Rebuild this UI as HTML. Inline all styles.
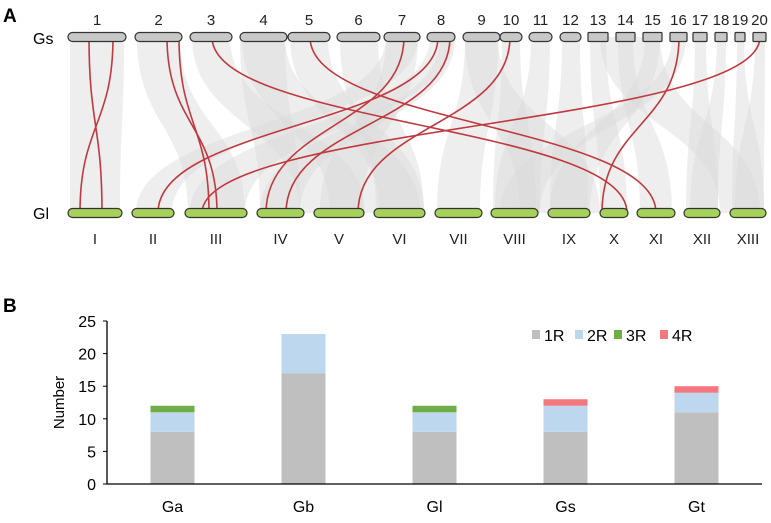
<!DOCTYPE html>
<html><head><meta charset="utf-8"><style>
body{margin:0;background:#fff}
svg text{font-family:"Liberation Sans",Arial,sans-serif}
</style></head><body>
<svg id="fig" width="771" height="518" viewBox="0 0 771 518">
<text x="3" y="22" font-size="19" font-weight="bold">A</text>
<text x="3" y="312" font-size="19" font-weight="bold">B</text>
<g id="ribbons"></g>
<g id="redlinks"></g>
<g id="chroms"></g>
<text x="33" y="44" font-size="16">Gs</text>
<text x="33" y="219" font-size="16">Gl</text>
<g id="chart"></g>
</svg>
<script>
const NS="http://www.w3.org/2000/svg";
function mk(tag,attrs,parent){const e=document.createElementNS(NS,tag);for(const k in attrs)e.setAttribute(k,attrs[k]);parent.appendChild(e);return e;}
// ---- Panel A ----
const gsNames=["1","2","3","4","5","6","7","8","9","10","11","12","13","14","15","16","17","18","19","20"];
const gsStart=[68,135,190,240,288,337,384,427,463,500,529,560,588,616,643,670,693,715,735,753];
const gsEnd=[126,182,232,287,330,380,420,455,500,522,552,581,608,635,662,687,707,727,745,766];
const glNames=["I","II","III","IV","V","VI","VII","VIII","IX","X","XI","XII","XIII"];
const glStart=[68,132,185,257,314,374,435,491,548,600,637,684,730];
const glEnd=[122,174,247,304,364,425,482,538,590,628,675,720,766];
const TOPY=37,BOTY=213;
const ribbons=[[70,124,70,120],[137,180,188,245],[192,230,300,365],[242,285,330,420],[290,328,380,424],[340,378,376,424],
[386,418,136,172],[430,453,190,245],[440,455,260,300],[465,498,437,480],[502,520,493,536],[531,550,495,540],[562,580,550,588],
[590,606,600,627],[618,633,640,672],[645,660,550,590],[672,686,500,540],[695,706,686,718],[717,726,690,718],[737,744,732,764],[755,765,735,764],
[386,418,320,362],[465,498,520,600],[600,660,720,760],[240,285,260,300]];
const rg=document.getElementById('ribbons');
ribbons.forEach(r=>{const ym=(TOPY+BOTY)/2;
 const p=mk('path',{d:`M${r[0]},${TOPY} C${r[0]},${ym} ${r[2]},${ym} ${r[2]},${BOTY} L${r[3]},${BOTY} C${r[3]},${ym} ${r[1]},${ym} ${r[1]},${TOPY} Z`,fill:'#d9d9d9','fill-opacity':0.45},rg);
 
 
});
const redTop=[113,89,167,179,212,310,404,438,450,510,760,679];
const redBot=[80,102,217,209,627,656,266,158,286,358,202,602];
const lg=document.getElementById('redlinks');
redTop.forEach((t,i)=>{const b=redBot[i],ym=(TOPY+BOTY)/2;
 const p=mk('path',{d:`M${t},${TOPY} C${t},${ym} ${b},${ym} ${b},${BOTY}`,fill:'none',stroke:'#c0393f','stroke-width':1.6},lg);
 
 
});
const cg=document.getElementById('chroms');
gsNames.forEach((n,i)=>{const w=gsEnd[i]-gsStart[i];const rx=i>=12?1:4.5;
 const r=mk('rect',{x:gsStart[i],y:TOPY-4.5,width:w,height:9,rx:rx,fill:'#c8c8c8',stroke:'#333','stroke-width':1.2},cg);
 
 
 const t=mk('text',{x:(gsStart[i]+gsEnd[i])/2,y:25,'font-size':15,'text-anchor':'middle',fill:'#222'},cg);t.textContent=n;
 
 
});
glNames.forEach((n,i)=>{const w=glEnd[i]-glStart[i];
 const r=mk('rect',{x:glStart[i],y:BOTY-4.5,width:w,height:9,rx:4.5,fill:'#a6d25a',stroke:'#333','stroke-width':1.2},cg);
 
 
 const t=mk('text',{x:(glStart[i]+glEnd[i])/2,y:244,'font-size':15,'text-anchor':'middle',fill:'#222'},cg);t.textContent=n;
 
 
});
// ---- Panel B ----
const categories=["Ga","Gb","Gl","Gs","Gt"];
const s1R=[8,17,8,8,11];
const s2R=[3,6,3,4,3];
const s3R=[1,0,1,0,0];
const s4R=[0,0,0,1,1];
const yTicks=[0,5,10,15,20,25];
const seriesNames=["1R","2R","3R","4R"];
const seriesColors=["#bfbfbf","#bdd7ee","#70ad47","#f4777f"];
const X0=107,X1=762,Y0=484,Y1=321,YMAX=25;
const yS=v=>Y0-(Y0-Y1)*v/YMAX;
const step=(X1-X0)/categories.length;
const xS=i=>X0+step*(i+0.5);
const ch=document.getElementById('chart');
const all=[s1R,s2R,s3R,s4R];
categories.forEach((c,i)=>{let acc=0;
 all.forEach((s,k)=>{const v=s[i];if(v>0){
  const r=mk('rect',{x:xS(i)-22,y:yS(acc+v),width:44,height:yS(acc)-yS(acc+v),fill:seriesColors[k]},ch);
  
  
 } acc+=v;});
 const t=mk('text',{x:xS(i),y:512,'font-size':16,'text-anchor':'middle'},ch);t.textContent=c;
 
 
});
const ax=mk('path',{d:`M${X0},${Y1} L${X0},${Y0} L${X1},${Y0}`,fill:'none',stroke:'#000','stroke-width':1.3},ch);


yTicks.forEach(v=>{mk('line',{x1:X0-4,x2:X0,y1:yS(v),y2:yS(v),stroke:'#000'},ch);
 const t=mk('text',{x:X0-11,y:yS(v)+6,'font-size':16,'text-anchor':'end'},ch);t.textContent=v;
 
 
});
const yt=mk('text',{x:0,y:0,'font-size':15,'text-anchor':'middle',transform:`translate(64,${(Y0+Y1)/2}) rotate(-90)`},ch);yt.textContent="Number";


const legX=[532,575,614,660];
seriesNames.forEach((n,k)=>{
 const r=mk('rect',{x:legX[k],y:330,width:8,height:9,fill:seriesColors[k]},ch);
 
 
 const t=mk('text',{x:legX[k]+12,y:341,'font-size':16},ch);t.textContent=n;
 
 
});
</script>
</body></html>
